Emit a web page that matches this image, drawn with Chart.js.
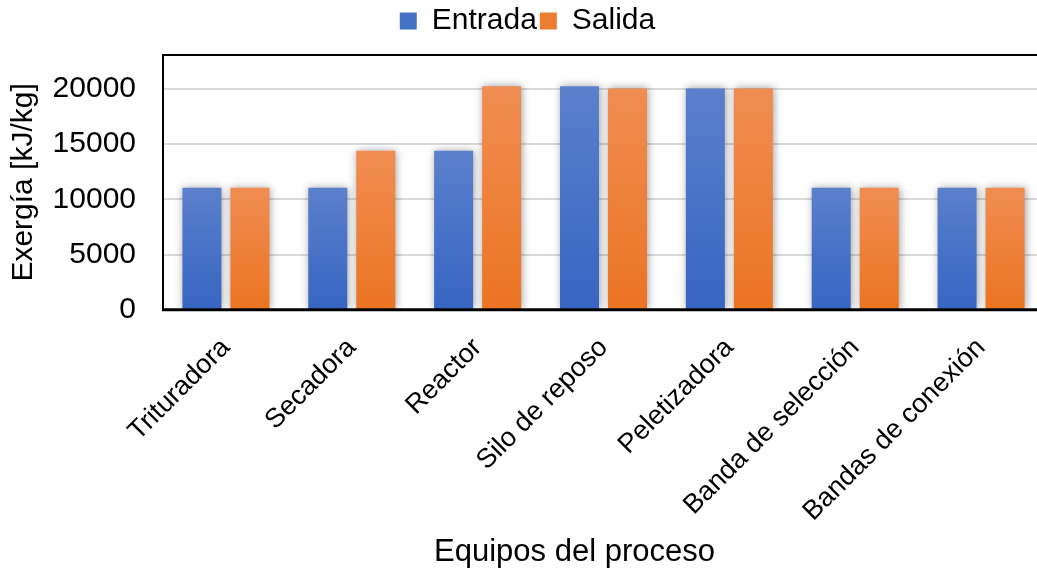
<!DOCTYPE html>
<html lang="es">
<head>
<meta charset="utf-8">
<title>Exergía por equipo</title>
<script src="https://cdn.jsdelivr.net/npm/chart.js@4.4.1/dist/chart.umd.min.js"></script>
<style>
  html, body { margin: 0; padding: 0; background: #fff; overflow: hidden; }
  #wrap { width: 1050px; height: 571px; }
</style>
</head>
<body>
<div id="wrap"><canvas id="chart" width="1050" height="571"></canvas></div>
<script>
// Equipment stages and exergy values (kJ/kg)
const categories = ['Trituradora', 'Secadora', 'Reactor', 'Silo de reposo', 'Peletizadora', 'Banda de selección', 'Bandas de conexión'];
const entrada = [11050, 11050, 14400, 20250, 20050, 11050, 11050];
const salida  = [11050, 14400, 20250, 20050, 20050, 11050, 11050];
const seriesNames = ['Entrada', 'Salida'];
const yTicks = [0, 5000, 10000, 15000, 20000];
const yMax = 23077;

const FONT = "'Liberation Sans', Arial, sans-serif";
const legendColors = ['#4472C4', '#ED7D31'];

// vertical gradient per bar: lighter at the top, deeper at the base
function barFill(top, bottom) {
  return (ctx) => {
    const chart = ctx.chart;
    const y = chart.scales && chart.scales.y;
    if (ctx.type !== 'data' || !chart.chartArea || !y) return bottom;
    const y0 = y.getPixelForValue(ctx.dataset.data[ctx.dataIndex]);
    const y1 = y.getPixelForValue(0);
    if (!isFinite(y0) || !isFinite(y1) || y0 === y1) return bottom;
    const g = chart.ctx.createLinearGradient(0, y0, 0, y1);
    g.addColorStop(0, top);
    g.addColorStop(1, bottom);
    return g;
  };
}

// soft drop shadow behind the bars
const barShadow = {
  id: 'barShadow',
  beforeDatasetsDraw(chart) {
    const c = chart.ctx;
    c.save();
    c.shadowColor = 'rgba(0,0,0,0.38)';
    c.shadowBlur = 8;
    c.shadowOffsetX = 1;
    c.shadowOffsetY = 0;
  },
  afterDatasetsDraw(chart) {
    chart.ctx.restore();
  }
};

// black frame around the plot area, heavier along the base
const plotFrame = {
  id: 'plotFrame',
  afterDatasetsDraw(chart) {
    const { ctx, chartArea: a } = chart;
    ctx.save();
    ctx.strokeStyle = '#000';
    ctx.lineWidth = 2;
    ctx.beginPath();
    ctx.moveTo(a.left, a.bottom);
    ctx.lineTo(a.left, a.top);
    ctx.lineTo(a.right, a.top);
    ctx.lineTo(a.right, a.bottom);
    ctx.stroke();
    ctx.lineWidth = 3;
    ctx.beginPath();
    ctx.moveTo(a.left - 1, a.bottom);
    ctx.lineTo(a.right, a.bottom);
    ctx.stroke();
    ctx.restore();
  }
};

// fixed band for the legend above the plot
const legendBand = {
  id: 'legendBand',
  beforeInit(chart, args, opts) {
    const lg = chart.legend;
    if (!lg) return;
    const fit = lg.fit;
    lg.fit = function () {
      fit.call(this);
      this.height = opts.height;
    };
  }
};

// horizontal nudge for the bottom title (category axis caption)
const captionShift = {
  id: 'captionShift',
  afterLayout(chart, args, opts) {
    const t = chart.titleBlock;
    if (!t) return;
    t.left += opts.dx;
    t.right += opts.dx;
  }
};

new Chart(document.getElementById('chart'), {
  type: 'bar',
  data: {
    labels: categories,
    datasets: [
      {
        label: seriesNames[0],
        data: entrada,
        backgroundColor: barFill('#5B80CC', '#3765C2'),
        borderWidth: 0,
        categoryPercentage: 0.763,
        barPercentage: 0.8125
      },
      {
        label: seriesNames[1],
        data: salida,
        backgroundColor: barFill('#F08D52', '#EC7422'),
        borderWidth: 0,
        categoryPercentage: 0.763,
        barPercentage: 0.8125
      }
    ]
  },
  options: {
    responsive: false,
    animation: false,
    devicePixelRatio: 1,
    layout: { padding: { left: 11, right: 6, top: 3, bottom: 0 } },
    plugins: {
      legendBand: { height: 52 },
      captionShift: { dx: 47 },
      legend: {
        position: 'top',
        align: 'center',
        labels: {
          color: '#000',
          font: { family: FONT, size: 30 },
          boxWidth: 17,
          boxHeight: 17,
          padding: 3,
          generateLabels(chart) {
            const items = Chart.defaults.plugins.legend.labels.generateLabels(chart);
            items.forEach((it, i) => {
              it.fillStyle = legendColors[i];
              it.strokeStyle = legendColors[i];
              it.lineWidth = 0;
            });
            return items;
          }
        }
      },
      title: {
        display: true,
        position: 'bottom',
        text: 'Equipos del proceso',
        color: '#000',
        font: { family: FONT, size: 31, weight: 'normal' },
        padding: { top: 2, bottom: 0 }
      },
      tooltip: { enabled: false }
    },
    scales: {
      x: {
        type: 'category',
        offset: true,
        grid: { display: false, drawTicks: false },
        border: { display: false },
        ticks: {
          color: '#000',
          font: { family: FONT, size: 27 },
          minRotation: 45,
          maxRotation: 45,
          autoSkip: false,
          padding: 22
        },
        afterFit(scale) { scale.height = 222; }
      },
      y: {
        min: 0,
        max: yMax,
        grid: { color: '#d9d9d9', lineWidth: 2, drawTicks: false },
        border: { display: false },
        ticks: {
          color: '#000',
          font: { family: FONT, size: 30 },
          padding: 27,
          callback: (v) => String(v)
        },
        afterBuildTicks(scale) {
          scale.ticks = yTicks.map(v => ({ value: v }));
        },
        afterFit(scale) { scale.width = 152; },
        title: {
          display: true,
          text: 'Exergía [kJ/kg]',
          color: '#000',
          font: { family: FONT, size: 30 },
          padding: { top: -5, bottom: 0 }
        }
      }
    }
  },
  plugins: [barShadow, plotFrame, legendBand, captionShift]
});
</script>
</body>
</html>
